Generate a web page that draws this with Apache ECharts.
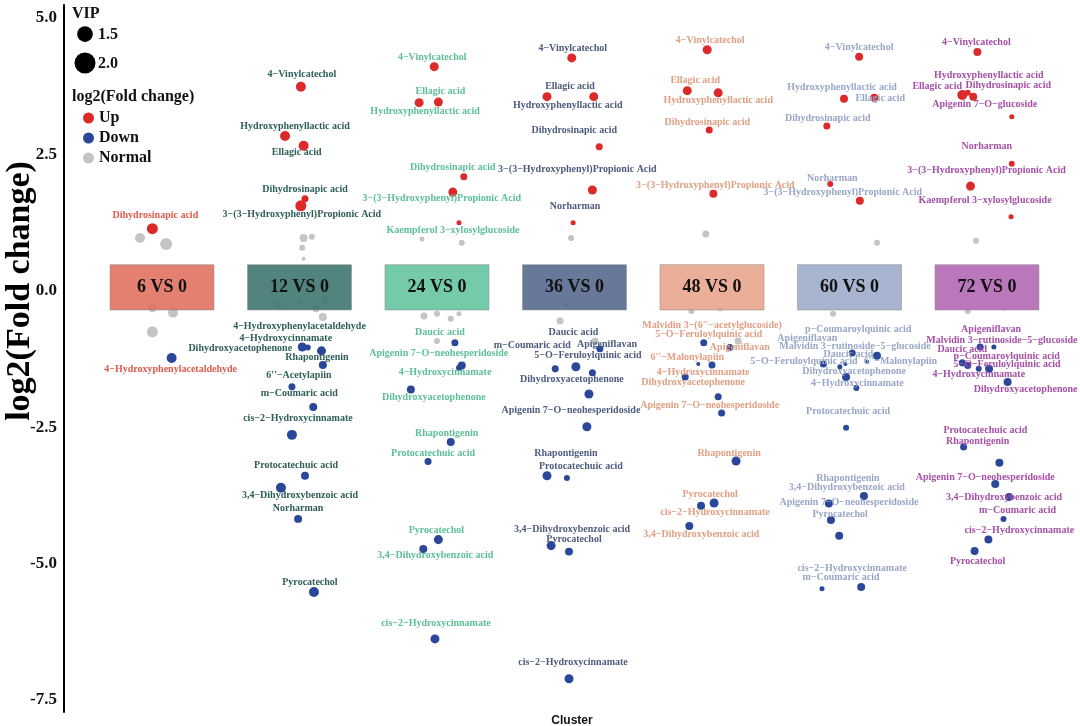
<!DOCTYPE html>
<html>
<head>
<meta charset="utf-8">
<script src="https://cdn.jsdelivr.net/npm/echarts@6/dist/echarts.min.js"></script>
<style>html,body{margin:0;padding:0;background:#fff;}#chart{width:1080px;height:726px;}</style>
</head>
<body>
<div id="chart"></div>
<script>
// ---------------- DATA ----------------
const clusters = ['6 VS 0', '12 VS 0', '24 VS 0', '36 VS 0', '48 VS 0', '60 VS 0', '72 VS 0'];
const yTicks = [-7.5, -5.0, -2.5, 0.0, 2.5, 5.0];
const vipLegend = [1.5, 2.0];
const regulation = ['Up', 'Down', 'Normal'];

// [metabolite, x jitter within cluster, log2(Fold change), VIP]
const c6 = [
  ['Dihydrosinapic acid', -0.07, 1.14, 1.05],
  ['4−Hydroxyphenylacetaldehyde', 0.07, -1.23, 0.95]
];
const c12 = [
  ['4−Vinylcatechol', 0.01, 3.74, 0.95],
  ['Hydroxyphenyllactic acid', -0.105, 2.84, 0.95],
  ['Ellagic acid', 0.03, 2.66, 0.95],
  ['Dihydrosinapic acid', 0.04, 1.69, 0.67],
  ['3−(3−Hydroxyphenyl)Propionic Acid', 0.01, 1.56, 1.05],
  ['Dihydroxyacetophenone', 0.02, -1.03, 0.86],
  ['4−Hydroxycinnamate', 0.06, -1.04, 0.57],
  ['4−Hydroxyphenylacetaldehyde', 0.16, -1.10, 0.86],
  ['Rhapontigenin', 0.17, -1.36, 0.76],
  ["6''−Acetylapiin", -0.055, -1.76, 0.67],
  ['m−Coumaric acid', 0.10, -2.13, 0.76],
  ['cis−2−Hydroxycinnamate', -0.055, -2.64, 0.95],
  ['Protocatechuic acid', 0.04, -3.39, 0.76],
  ['3,4−Dihydroxybenzoic acid', -0.135, -3.61, 0.95],
  ['Norharman', -0.01, -4.18, 0.76],
  ['Pyrocatechol', 0.105, -5.52, 0.95]
];
const c24 = [
  ['4−Vinylcatechol', -0.02, 4.11, 0.86],
  ['Hydroxyphenyllactic acid', -0.13, 3.45, 0.86],
  ['Ellagic acid', 0.01, 3.46, 0.86],
  ['Dihydrosinapic acid', 0.195, 2.09, 0.67],
  ['3−(3−Hydroxyphenyl)Propionic Acid', 0.115, 1.81, 0.86],
  ['Kaempferol 3−xylosylglucoside', 0.16, 1.25, 0.48],
  ['Daucic acid', 0.13, -0.95, 0.67],
  ['Apigenin 7−O−neohesperidoside', 0.18, -1.37, 0.76],
  ['4−Hydroxycinnamate', 0.16, -1.41, 0.57],
  ['Dihydroxyacetophenone', -0.19, -1.81, 0.76],
  ['Rhapontigenin', 0.10, -2.77, 0.76],
  ['Protocatechuic acid', -0.065, -3.13, 0.67],
  ['Pyrocatechol', 0.01, -4.56, 0.86],
  ['3,4−Dihydroxybenzoic acid', -0.10, -4.73, 0.76],
  ['cis−2−Hydroxycinnamate', -0.015, -6.38, 0.86]
];
const c36 = [
  ['4−Vinylcatechol', -0.02, 4.27, 0.86],
  ['Ellagic acid', -0.20, 3.56, 0.86],
  ['Hydroxyphenyllactic acid', 0.14, 3.56, 0.86],
  ['Dihydrosinapic acid', 0.18, 2.64, 0.67],
  ['3−(3−Hydroxyphenyl)Propionic Acid', 0.13, 1.85, 0.86],
  ['Norharman', -0.01, 1.25, 0.48],
  ['Apigeniflavan', 0.185, -1.06, 0.67],
  ['Daucic acid', 0.13, -1.50, 0.67],
  ['5−O−Feruloylquinic acid', 0.01, -1.39, 0.86],
  ['m−Coumaric acid', -0.14, -1.43, 0.67],
  ['Dihydroxyacetophenone', 0.105, -1.89, 0.86],
  ['Apigenin 7−O−neohesperidoside', 0.09, -2.49, 0.86],
  ['Rhapontigenin', -0.20, -3.39, 0.86],
  ['Protocatechuic acid', -0.055, -3.43, 0.57],
  ['3,4−Dihydroxybenzoic acid', -0.17, -4.67, 0.86],
  ['Pyrocatechol', -0.04, -4.78, 0.76],
  ['cis−2−Hydroxycinnamate', -0.04, -7.11, 0.86]
];
const c48 = [
  ['4−Vinylcatechol', -0.035, 4.42, 0.86],
  ['Ellagic acid', -0.18, 3.67, 0.86],
  ['Hydroxyphenyllactic acid', 0.045, 3.63, 0.86],
  ['Dihydrosinapic acid', -0.02, 2.95, 0.67],
  ['3−(3−Hydroxyphenyl)Propionic Acid', 0.01, 1.78, 0.76],
  ['5−O−Feruloylquinic acid', -0.06, -0.95, 0.67],
  ['Apigeniflavan', 0.13, -1.04, 0.67],
  ["Malvidin 3−(6''−acetylglucoside)", 0.0, -1.36, 0.67],
  ["6''−Malonylapiin", -0.10, -1.34, 0.38],
  ['4−Hydroxycinnamate', -0.195, -1.58, 0.67],
  ['Dihydroxyacetophenone', 0.045, -1.94, 0.67],
  ['Apigenin 7−O−neohesperidoside', 0.07, -2.24, 0.67],
  ['Rhapontigenin', 0.175, -3.12, 0.86],
  ['Pyrocatechol', 0.015, -3.89, 0.86],
  ['cis−2−Hydroxycinnamate', -0.08, -3.94, 0.76],
  ['3,4−Dihydroxybenzoic acid', -0.165, -4.31, 0.76]
];
const c60 = [
  ['4−Vinylcatechol', 0.07, 4.29, 0.76],
  ['Hydroxyphenyllactic acid', -0.04, 3.52, 0.76],
  ['Ellagic acid', 0.18, 3.54, 0.76],
  ['Dihydrosinapic acid', -0.165, 3.02, 0.67],
  ['Norharman', -0.14, 1.96, 0.57],
  ['3−(3−Hydroxyphenyl)Propionic Acid', 0.075, 1.65, 0.76],
  ['p−Coumaroylquinic acid', 0.02, -1.14, 0.67],
  ['Malvidin 3−rutinoside−5−glucoside', 0.20, -1.19, 0.76],
  ['Apigeniflavan', -0.19, -1.34, 0.67],
  ['Daucic acid', -0.03, -1.34, 0.38],
  ["6''−Malonylapiin", 0.13, -1.30, 0.38],
  ['5−O−Feruloylquinic acid', -0.07, -1.39, 0.48],
  ['Dihydroxyacetophenone', -0.025, -1.58, 0.76],
  ['4−Hydroxycinnamate', 0.05, -1.78, 0.57],
  ['Protocatechuic acid', -0.025, -2.51, 0.57],
  ['Rhapontigenin', 0.105, -3.76, 0.76],
  ['3,4−Dihydroxybenzoic acid', -0.15, -3.90, 0.76],
  ['Apigenin 7−O−neohesperidoside', -0.135, -4.20, 0.76],
  ['Pyrocatechol', -0.075, -4.49, 0.76],
  ['cis−2−Hydroxycinnamate', 0.085, -5.43, 0.76],
  ['m−Coumaric acid', -0.20, -5.46, 0.48]
];
const c72 = [
  ['4−Vinylcatechol', -0.07, 4.38, 0.76],
  ['Ellagic acid', -0.18, 3.59, 0.95],
  ['Hydroxyphenyllactic acid', -0.14, 3.63, 0.57],
  ['Dihydrosinapic acid', -0.10, 3.56, 0.76],
  ['Apigenin 7−O−glucoside', 0.18, 3.19, 0.48],
  ['Norharman', 0.18, 2.33, 0.57],
  ['3−(3−Hydroxyphenyl)Propionic Acid', -0.12, 1.92, 0.86],
  ['Kaempferol 3−xylosylglucoside', 0.175, 1.36, 0.48],
  ['Apigeniflavan', -0.05, -1.03, 0.67],
  ['Malvidin 3−rutinoside−5−glucoside', 0.05, -1.03, 0.48],
  ['Daucic acid', -0.18, -1.32, 0.67],
  ['p−Coumaroylquinic acid', -0.14, -1.37, 0.67],
  ['5−O−Feruloylquinic acid', 0.015, -1.43, 0.76],
  ['4−Hydroxycinnamate', -0.06, -1.43, 0.57],
  ['Dihydroxyacetophenone', 0.15, -1.67, 0.76],
  ['Rhapontigenin', -0.17, -2.86, 0.67],
  ['Protocatechuic acid', 0.09, -3.15, 0.76],
  ['Apigenin 7−O−neohesperidoside', 0.06, -3.54, 0.76],
  ['3,4−Dihydroxybenzoic acid', 0.16, -3.78, 0.76],
  ['m−Coumaric acid', 0.12, -4.18, 0.57],
  ['cis−2−Hydroxycinnamate', 0.01, -4.56, 0.76],
  ['Pyrocatechol', -0.09, -4.77, 0.76]
];
// non-significant metabolites: [cluster index, x jitter, log2(Fold change), VIP]
const normalPts = [
  [0, -0.16, 0.97, 0.95], [0, 0.03, 0.86, 1.14], [0, -0.07, -0.31, 0.86], [0, 0.08, -0.40, 0.95], [0, -0.07, -0.75, 1.05],
  [1, 0.03, 0.97, 0.76], [1, 0.09, 0.99, 0.57], [1, 0.02, 0.79, 0.57], [1, 0.03, 0.59, 0.38], [1, 0.12, -0.33, 0.67],
  [1, 0.17, -0.48, 0.76], [1, -0.16, -0.26, 0.67], [1, 0.0, -0.22, 0.48], [1, 0.185, -0.16, 0.86],
  [2, -0.11, 0.95, 0.48], [2, 0.18, 0.88, 0.57], [2, -0.095, -0.46, 0.67], [2, 0.0, -0.42, 0.57], [2, 0.10, -0.51, 0.57],
  [2, 0.16, -0.42, 0.48], [2, 0.0, -0.92, 0.57],
  [3, -0.025, 0.97, 0.57], [3, -0.105, -0.55, 0.67], [3, 0.15, -0.92, 0.67], [3, -0.06, -0.26, 0.48],
  [4, -0.045, 1.04, 0.67], [4, -0.15, -0.37, 0.57], [4, 0.06, -0.33, 0.48], [4, 0.19, -0.92, 0.67],
  [5, 0.20, 0.88, 0.57], [5, -0.12, -0.42, 0.57],
  [6, -0.08, 0.92, 0.57], [6, -0.14, -0.37, 0.57], [6, 0.12, -0.33, 0.38]
];

// ---------------- LABEL LAYOUT (pixel nudges, repel-style) ----------------
const n6 = [[3,-13],[-1,11]];
const n12 = [[1,-12],[10,-10],[-7,7],[0,-9],[1,9],[-62,1],[-22,-9],[-22,-24],[-6,-8],[7,-11],[-14,-14],[6,-16],[-9,-10],[19,8],[0,-10],[-4,-10]];
const n24 = [[-2,-9],[6,9],[2,-11],[-11,-9],[-11,6],[-6,8],[-15,-10],[-23,-12],[-14,5],[23,8],[-4,-9],[5,-8],[-2,-9],[12,7],[1,-15]];
const n36 = [[1,-9],[23,-10],[-26,9],[-25,-16],[-15,-21],[2,-16],[7,-4],[-19,-40],[12,-11],[-23,-23],[-17,-15],[-16,-16],[19,-22],[14,-12],[21,-16],[5,-12],[4,-16]];
const n48 = [[3,-9],[8,-10],[0,8],[-2,-8],[2,-8],[5,-8],[10,0],[0,-40],[-11,-7],[18,-5],[-25,-14],[-12,-8],[-7,-8],[-4,-9],[14,7],[12,8]];
const n60 = [[0,-9],[-2,-11],[6,1],[1,-8],[2,-6],[-17,-8],[6,-24],[-22,-9],[-16,-26],[3,-10],[33,0],[-36,-5],[8,-6],[1,-5],[2,-16],[-16,-18],[18,-16],[18,-18],[1,-21],[-9,-19],[19,-11]];
const n72 = [[-1,-9],[-25,-9],[21,-17],[35,-11],[-27,-12],[-25,-17],[16,-16],[-26,-16],[11,-18],[8,-7],[0,-13],[39,-9],[18,-4],[0,6],[18,7],[14,-5],[-14,-32],[-10,-7],[-5,0],[14,-8],[31,-9],[3,10]];

// ---------------- STYLE ----------------
const boxColors = ['#E07260', '#3E7571', '#66C4A1', '#56698E', '#E9A58D', '#9EADCB', '#B468B5'];
const labelColors = ['#DC5B4C', '#2F5E58', '#5DBF98', '#4E5B7C', '#E0A084', '#99A6C6', '#A650A8'];
const statusColors = { Up: '#DC2A2B', Down: '#2B4799', Normal: '#C4C4C4' };
const SERIF = '"Liberation Serif", "Times New Roman", serif';
const vipSize = v => v * 10.5;

const clusterSets = [c6, c12, c24, c36, c48, c60, c72];
const clusterNudges = [n6, n12, n24, n36, n48, n60, n72];

const seriesData = { Up: [], Down: [], Normal: [] };
clusterSets.forEach((arr, ci) => {
  arr.forEach((d, j) => {
    const [name, jit, fc, vip] = d;
    const st = fc > 0 ? 'Up' : 'Down';
    const nd = clusterNudges[ci][j] || [0, -10];
    seriesData[st].push({
      name: name,
      value: [ci + jit, fc, vip],
      label: { offset: nd, color: labelColors[ci] }
    });
  });
});
normalPts.forEach(d => {
  seriesData.Normal.push({ value: [d[0] + d[1], d[2], d[3]] });
});

const chart = echarts.init(document.getElementById('chart'), null, { renderer: 'canvas' });

const pxPerUnit = 137.5;
const xMin = -(162 - 64) / pxPerUnit;
const xMax = xMin + 1016 / pxPerUnit;

function scatterSeries(st, z) {
  return {
    name: st,
    type: 'scatter',
    z: z,
    data: seriesData[st],
    symbol: 'circle',
    symbolSize: v => vipSize(v[2]),
    itemStyle: { color: statusColors[st], opacity: 1 },
    label: {
      show: st !== 'Normal',
      position: 'inside',
      formatter: p => p.name,
      fontFamily: SERIF,
      fontWeight: 'bold',
      fontSize: 10
    },
    emphasis: { disabled: true },
    silent: true
  };
}

const option = {
  backgroundColor: '#ffffff',
  animation: false,
  grid: { left: 64, right: 0, top: 5, bottom: 14, containLabel: false, outerBoundsMode: 'none' },
  xAxis: {
    type: 'value', min: xMin, max: xMax,
    axisLine: { show: false, onZero: false }, axisTick: { show: false }, axisLabel: { show: false }, splitLine: { show: false },
    name: 'Cluster', nameLocation: 'middle', nameGap: 3, nameMoveOverlap: false,
    nameTextStyle: { fontFamily: '"Liberation Sans", Arial, sans-serif', fontWeight: 'bold', fontSize: 12, color: '#111', verticalAlign: 'top' }
  },
  yAxis: {
    type: 'value', min: -7.72, max: 5.24,
    axisLine: { show: true, onZero: false, lineStyle: { color: '#000', width: 2 } },
    axisTick: { show: false, customValues: yTicks },
    axisLabel: {
      customValues: yTicks,
      margin: 7,
      fontFamily: SERIF, fontWeight: 'bold', fontSize: 17, color: '#111',
      formatter: v => v.toFixed(1)
    },
    splitLine: { show: false }
  },
  legend: {
    data: regulation,
    orient: 'vertical', left: 78, top: 105,
    itemWidth: 11, itemHeight: 11, itemGap: 4,
    icon: 'circle', selectedMode: false,
    textStyle: { fontFamily: SERIF, fontWeight: 'bold', fontSize: 16, color: '#111' }
  },
  graphic: [
    { type: 'text', x: 20, y: 291, rotation: Math.PI / 2,
      style: { text: 'log2(Fold change)', font: 'bold 34px ' + SERIF, fill: '#000', align: 'center', verticalAlign: 'middle' } },
    { type: 'text', left: 72, top: 6, style: { text: 'VIP', font: 'bold 16px ' + SERIF, fill: '#111' } },
    { type: 'circle', shape: { cx: 85, cy: 34, r: vipSize(vipLegend[0]) / 2 }, style: { fill: '#000' } },
    { type: 'text', left: 98, top: 27, style: { text: vipLegend[0].toFixed(1), font: 'bold 16px ' + SERIF, fill: '#111' } },
    { type: 'circle', shape: { cx: 85, cy: 63, r: vipSize(vipLegend[1]) / 2 }, style: { fill: '#000' } },
    { type: 'text', left: 98, top: 56, style: { text: vipLegend[1].toFixed(1), font: 'bold 16px ' + SERIF, fill: '#111' } },
    { type: 'text', left: 72, top: 89, style: { text: 'log2(Fold change)', font: 'bold 16px ' + SERIF, fill: '#111' } }
  ],
  series: [
    scatterSeries('Normal', 2),
    scatterSeries('Down', 3),
    scatterSeries('Up', 3),
    {
      type: 'custom',
      z: 5,
      silent: true,
      data: clusters.map((c, i) => [i, c]),
      renderItem: (params, api) => {
        const i = api.value(0);
        const tl = api.coord([i - 0.378, 0.48]);
        const br = api.coord([i + 0.378, -0.35]);
        return {
          type: 'group',
          children: [
            { type: 'rect', shape: { x: tl[0], y: tl[1], width: br[0] - tl[0], height: br[1] - tl[1] },
              style: { fill: boxColors[i], opacity: 0.9, stroke: '#8a8a8a', lineWidth: 0.6 } },
            { type: 'text', style: { text: clusters[i], x: (tl[0] + br[0]) / 2, y: (tl[1] + br[1]) / 2,
              align: 'center', verticalAlign: 'middle', font: 'bold 18px ' + SERIF, fill: '#111' } }
          ]
        };
      }
    }
  ]
};
chart.setOption(option);
</script>
</body>
</html>
